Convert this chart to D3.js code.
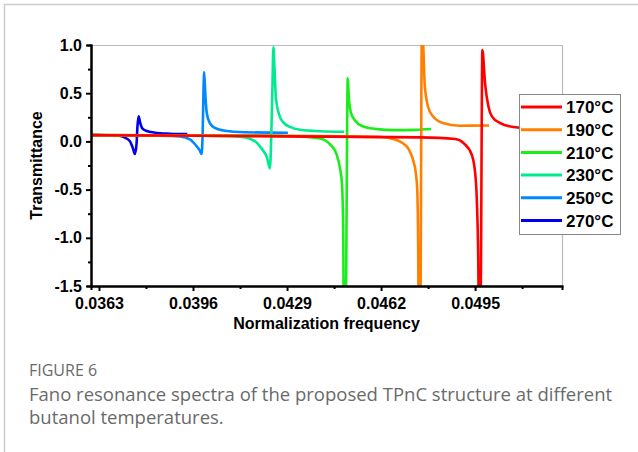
<!doctype html>
<html>
<head>
<meta charset="utf-8">
<title>Fano resonance spectra</title>
<script src="https://d3js.org/d3.v7.min.js"></script>
<style>
body { margin: 0; background: white; }
svg { display: block; }
.axis text { font-family: "Liberation Sans", Arial, sans-serif; font-weight: bold; font-size: 16px; fill: black; }
.axis path, .axis line { stroke: black; stroke-width: 2px; }
</style>
</head>
<body>
<div id="chart1"></div>
<script>
// values: [normalized frequency, transmittance]
var temps = ["170°C", "190°C", "210°C", "230°C", "250°C", "270°C"];
var colors = ["#ff0000", "#ff8000", "#1aee1a", "#00ea90", "#0088ff", "#0000ee"];

var s270 = [[0.0360, 0.065], [0.0370, 0.06], [0.03721, 0.04], [0.03739, 0.0], [0.03749, -0.07],
  [0.03756, -0.13], [0.03762, -0.02], [0.03765, 0.15], [0.03769, 0.26], [0.03774, 0.2],
  [0.03781, 0.14], [0.03795, 0.11], [0.03827, 0.09], [0.03879, 0.08], [0.0394, 0.075]];

var s250 = [[0.0360, 0.065], [0.0385, 0.06], [0.03914, 0.05], [0.03949, 0.02], [0.03970, -0.04],
  [0.03983, -0.09], [0.03990, -0.13], [0.03994, 0.1], [0.03996, 0.4], [0.03999, 0.72],
  [0.04003, 0.5], [0.04008, 0.3], [0.04019, 0.19], [0.04037, 0.14], [0.04072, 0.11],
  [0.04142, 0.095], [0.04293, 0.09]];

var s230 = [[0.0360, 0.065], [0.0400, 0.06], [0.04125, 0.05], [0.04178, 0.0], [0.04202, -0.08],
  [0.04220, -0.17], [0.04230, -0.28], [0.04235, 0.1], [0.04239, 0.6], [0.04242, 0.976],
  [0.04246, 0.75], [0.04251, 0.45], [0.04262, 0.28], [0.04276, 0.2], [0.04301, 0.15],
  [0.04336, 0.12], [0.04406, 0.105], [0.04490, 0.1]];

var s210 = [[0.0360, 0.065], [0.0420, 0.06], [0.04336, 0.05], [0.04406, 0.03], [0.04441, -0.03],
  [0.04462, -0.12], [0.04476, -0.28], [0.04483, -0.45], [0.04487, -0.9], [0.04489, -1.7],
  [0.04496, -1.7], [0.04503, 0.656], [0.04507, 0.45], [0.04514, 0.3], [0.04528, 0.22],
  [0.04553, 0.16], [0.04599, 0.13], [0.04669, 0.117], [0.04740, 0.12], [0.04796, 0.128]];

var s190 = [[0.0360, 0.065], [0.0440, 0.055], [0.04617, 0.045], [0.04669, 0.02], [0.04697, -0.02],
  [0.04718, -0.085], [0.04733, -0.2], [0.04742, -0.33], [0.04747, -0.5], [0.04750, -1.0],
  [0.04752, -1.7], [0.04758, -1.7], [0.04763, 1.1], [0.04767, 1.05], [0.04773, 0.6],
  [0.04785, 0.36], [0.04802, 0.26], [0.04837, 0.19], [0.04896, 0.163], [0.04999, 0.165]];

var s170 = [[0.0360, 0.065], [0.03985, 0.058], [0.04406, 0.05], [0.04757, 0.042], [0.0488, 0.025],
  [0.04909, -0.016], [0.04938, -0.136], [0.04950, -0.32], [0.04956, -0.6], [0.04961, -1.2],
  [0.04963, -1.7], [0.04969, -1.7], [0.049756, 0.948], [0.04985, 0.6], [0.04997, 0.36],
  [0.05009, 0.26], [0.05038, 0.19], [0.05084, 0.15], [0.05178, 0.13], [0.0525, 0.125]];

var series = [s170, s190, s210, s230, s250, s270];

var xTicks = [0.0363, 0.0396, 0.0429, 0.0462, 0.0495];
var yTicks = [-1.5, -1.0, -0.5, 0.0, 0.5, 1.0];

var W = 638, H = 452;
var margin = { top: 45, right: 76, bottom: 166, left: 91 },
  width = W - margin.left - margin.right,
  height = H - margin.top - margin.bottom;

var root = d3.select("#chart1").append("svg")
  .attr("width", W)
  .attr("height", H);

// outer frame
root.append("path")
  .attr("d", "M4.5," + H + "V4.5H" + W)
  .attr("fill", "none")
  .attr("stroke", "#cccccc")
  .attr("stroke-width", 1.5);

var svg = root.append("g")
  .attr("transform", "translate(" + margin.left + "," + margin.top + ")");

var x = d3.scaleLinear().domain([0.03602, 0.05255]).range([0, width]);
var y = d3.scaleLinear().domain([-1.5, 1.0]).range([height, 0]);

// top / right frame of the plot
svg.append("path")
  .attr("d", "M0,0.5H" + (width + 0.5) + "V" + height)
  .attr("fill", "none")
  .attr("stroke", "#bbbbbb")
  .attr("stroke-width", 1.2);

svg.append("clipPath").attr("id", "clip")
  .append("rect").attr("width", width).attr("height", height);

var line = d3.line()
  .x(function(d) { return x(d[0]); })
  .y(function(d) { return y(d[1]); })
  .curve(d3.curveMonotoneX);

// draw 270 first so that 170 ends up on top
var order = [5, 4, 3, 2, 1, 0];
svg.append("g").attr("clip-path", "url(#clip)")
  .selectAll("path")
  .data(order)
  .enter().append("path")
  .attr("d", function(i) { return line(series[i]); })
  .attr("fill", "none")
  .attr("stroke", function(i) { return colors[i]; })
  .attr("stroke-width", 2.6)
  .attr("stroke-linejoin", "round");

// minor ticks halfway between the labelled ones
var xMinor = xTicks.map(function(t) { return t + 0.00165; });
var yMinor = yTicks.slice(0, -1).map(function(t) { return t + 0.25; });

svg.append("g")
  .attr("class", "axis")
  .attr("transform", "translate(0," + height + ")")
  .call(d3.axisBottom(x).tickValues(xMinor).tickSize(3).tickFormat(""))
  .selectAll("text").remove();
svg.append("g")
  .attr("class", "axis")
  .call(d3.axisLeft(y).tickValues(yMinor).tickSize(3).tickFormat(""))
  .selectAll("text").remove();

// plain hyphen for negatives, like the original
var fmtY = function(d) { return d3.format(".1f")(d).replace("\u2212", "-"); };

svg.append("g")
  .attr("class", "axis")
  .attr("transform", "translate(0," + height + ")")
  .call(d3.axisBottom(x).tickValues(xTicks).tickSize(5).tickSizeOuter(0)
    .tickPadding(7).tickFormat(d3.format(".4f")));

svg.append("g")
  .attr("class", "axis")
  .call(d3.axisLeft(y).tickValues(yTicks).tickSize(5).tickSizeOuter(0)
    .tickPadding(4).tickFormat(fmtY));

svg.selectAll(".axis path.domain").attr("stroke-linecap", "square");

svg.append("text")
  .attr("x", width / 2)
  .attr("y", height + 43)
  .attr("text-anchor", "middle")
  .style("font-family", "'Liberation Sans', Arial, sans-serif")
  .style("font-weight", "bold")
  .style("font-size", "16px")
  .text("Normalization frequency");

svg.append("text")
  .attr("transform", "rotate(-90)")
  .attr("x", -height / 2)
  .attr("y", -49)
  .attr("text-anchor", "middle")
  .style("font-family", "'Liberation Sans', Arial, sans-serif")
  .style("font-weight", "bold")
  .style("font-size", "16px")
  .text("Transmittance");

// legend
var lg = root.append("g").attr("transform", "translate(519,94)");
lg.append("rect")
  .attr("x", 0.5).attr("y", 0.5)
  .attr("width", 101).attr("height", 140)
  .attr("fill", "white")
  .attr("stroke", "#888888")
  .attr("stroke-width", 1);

var item = lg.selectAll("g.item")
  .data(temps)
  .enter().append("g")
  .attr("class", "item")
  .attr("transform", function(d, i) { return "translate(0," + (13 + i * 22.7) + ")"; });

item.append("line")
  .attr("x1", 2).attr("x2", 43)
  .attr("stroke", function(d, i) { return colors[i]; })
  .attr("stroke-width", 3);

item.append("text")
  .attr("x", 47)
  .attr("dy", "0.36em")
  .style("font-family", "'Liberation Sans', Arial, sans-serif")
  .style("font-weight", "bold")
  .style("font-size", "17px")
  .text(function(d) { return d; });

// caption
root.append("text")
  .attr("x", 29).attr("y", 376)
  .style("font-family", "'Open Sans', sans-serif")
  .style("font-size", "16px")
  .style("fill", "#6a6a6a")
  .text("FIGURE 6");

var cap = ["Fano resonance spectra of the proposed TPnC structure at different",
  "butanol temperatures."];
root.selectAll("text.cap")
  .data(cap)
  .enter().append("text")
  .attr("class", "cap")
  .attr("x", 29)
  .attr("y", function(d, i) { return 401 + i * 23; })
  .style("font-family", "'Open Sans', sans-serif")
  .style("font-size", "18.5px")
  .style("fill", "#6a6a6a")
  .text(function(d) { return d; });
</script>
</body>
</html>
